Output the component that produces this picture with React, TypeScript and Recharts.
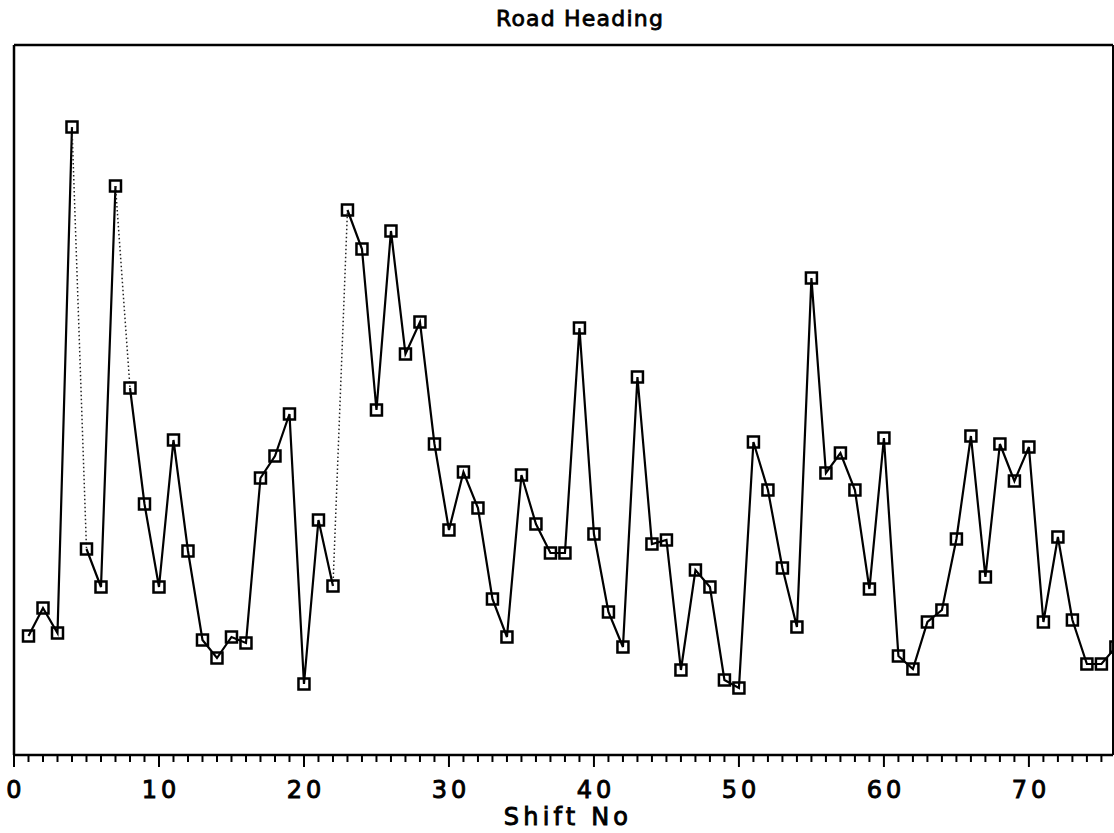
import React from "react";
import { LineChart, Line, XAxis, YAxis, ReferenceLine } from "recharts";

const shiftNo = [
  1, 2, 3, 4, 5, 6, 7, 8, 9, 10, 11, 12, 13, 14, 15, 16, 17, 18, 19, 20,
  21, 22, 23, 24, 25, 26, 27, 28, 29, 30, 31, 32, 33, 34, 35, 36, 37, 38, 39, 40,
  41, 42, 43, 44, 45, 46, 47, 48, 49, 50, 51, 52, 53, 54, 55, 56, 57, 58, 59, 60,
  61, 62, 63, 64, 65, 66, 67, 68, 69, 70, 71, 72, 73, 74, 75, 76,
];

const heading = [
  119, 147, 122, 628, 206, 168, 569, 367, 251, 168, 315, 204, 115, 97, 118, 112, 277, 299, 341, 71,
  235, 169, 545, 506, 345, 524, 401, 433, 311, 225, 283, 247, 156, 118, 280, 231, 202, 202, 427, 221,
  143, 108, 378, 211, 215, 85, 185, 168, 75, 67, 313, 265, 187, 128, 477, 282, 302, 265, 166, 317,
  99, 86, 133, 145, 216, 319, 178, 311, 274, 308, 133, 218, 135, 91, 91, 108,
];

// shift numbers where the segment to the next shift is drawn dotted
const dottedFrom = [4, 7, 22];

const xTicks = [
  0, 1, 2, 3, 4, 5, 6, 7, 8, 9, 10, 11, 12, 13, 14, 15, 16, 17, 18, 19, 20,
  21, 22, 23, 24, 25, 26, 27, 28, 29, 30, 31, 32, 33, 34, 35, 36, 37, 38, 39, 40,
  41, 42, 43, 44, 45, 46, 47, 48, 49, 50, 51, 52, 53, 54, 55, 56, 57, 58, 59, 60,
  61, 62, 63, 64, 65, 66, 67, 68, 69, 70, 71, 72, 73, 74, 75,
];
const xMajorTicks = [0, 10, 20, 30, 40, 50, 60, 70];

const X_MAX = 75.8;
const Y_MAX = 710;

// build solid runs (broken at dotted joins) and dotted pieces
const solidKeys: string[] = [];
const rows = shiftNo.map((s, i) => ({ x: s, v: heading[i] } as Record<string, number | null>));
{
  let run = 0;
  shiftNo.forEach((s, i) => {
    const key = "s" + run;
    if (!solidKeys.includes(key)) solidKeys.push(key);
    rows[i][key] = heading[i];
    if (dottedFrom.includes(s)) run += 1;
  });
  rows.forEach((r) => {
    solidKeys.forEach((k) => {
      if (r[k] === undefined) r[k] = null;
    });
    r.d = null;
  });
  dottedFrom.forEach((s) => {
    const i = shiftNo.indexOf(s);
    rows[i].d = heading[i];
    rows[i + 1].d = heading[i + 1];
  });
}

const font = "'DejaVu Sans', sans-serif";

const Tick = (props: any) => {
  const { x, y, payload } = props;
  const major = xMajorTicks.includes(payload.value);
  return (
    <g>
      <line x1={x} x2={x} y1={y} y2={y + (major ? 12 : 7)} stroke="#000" strokeWidth={2} />
      {major && (
        <text
          x={x + 2}
          y={y + 43}
          textAnchor="middle"
          fontFamily={font}
          fontSize={24}
          fill="#000"
          stroke="#000"
          strokeWidth={0.9}
          letterSpacing={4}
        >
          {payload.value}
        </text>
      )}
    </g>
  );
};

const SquareDot = (props: any) => {
  const { cx, cy, index } = props;
  if (cx == null || cy == null) return <g key={index} />;
  return (
    <rect key={index} x={cx - 5.5} y={cy - 5.5} width={11} height={11} fill="none" stroke="#000" strokeWidth={2.5} />
  );
};

export default function App() {
  return (
    <div style={{ position: "absolute", left: 0, top: 0, width: 1114, height: 833, background: "#fff" }}>
      <LineChart
        width={1114}
        height={833}
        data={rows}
        margin={{ top: 45, right: 1, bottom: 0, left: 13 }}
      >
        <XAxis
          type="number"
          dataKey="x"
          domain={[0, X_MAX]}
          allowDataOverflow
          ticks={xTicks}
          interval={0}
          tick={<Tick />}
          tickLine={false}
          tickSize={0}
          tickMargin={0}
          height={78}
          axisLine={{ stroke: "#000", strokeWidth: 2.5 }}
        />
        <YAxis
          type="number"
          domain={[0, Y_MAX]}
          allowDataOverflow
          width={1}
          tick={false}
          tickLine={false}
          axisLine={{ stroke: "#000", strokeWidth: 2.5 }}
        />
        <ReferenceLine y={Y_MAX} stroke="#000" strokeWidth={2.5} ifOverflow="visible" />
        <ReferenceLine x={X_MAX} stroke="#000" strokeWidth={2} ifOverflow="visible" />
        {solidKeys.map((k) => (
          <Line key={k} dataKey={k} type="linear" stroke="#000" strokeWidth={2.2} dot={false} activeDot={false} isAnimationActive={false} connectNulls={false} />
        ))}
        <Line dataKey="d" type="linear" stroke="#222" strokeWidth={1.5} strokeDasharray="1.5 2.5" dot={false} activeDot={false} isAnimationActive={false} connectNulls={false} />
        <Line dataKey="v" type="linear" stroke="none" dot={<SquareDot />} activeDot={false} isAnimationActive={false} />
      </LineChart>
      <svg width={1114} height={833} style={{ position: "absolute", left: 0, top: 0, pointerEvents: "none" }}>
        <text x={580} y={26} textAnchor="middle" fontFamily={font} fontSize={22} letterSpacing={1.2} stroke="#000" strokeWidth={0.8} fill="#000">
          Road Heading
        </text>
        <text x={568} y={825} textAnchor="middle" fontFamily={font} fontSize={24} letterSpacing={4.2} stroke="#000" strokeWidth={0.9} fill="#000">
          Shift No
        </text>
      </svg>
    </div>
  );
}
